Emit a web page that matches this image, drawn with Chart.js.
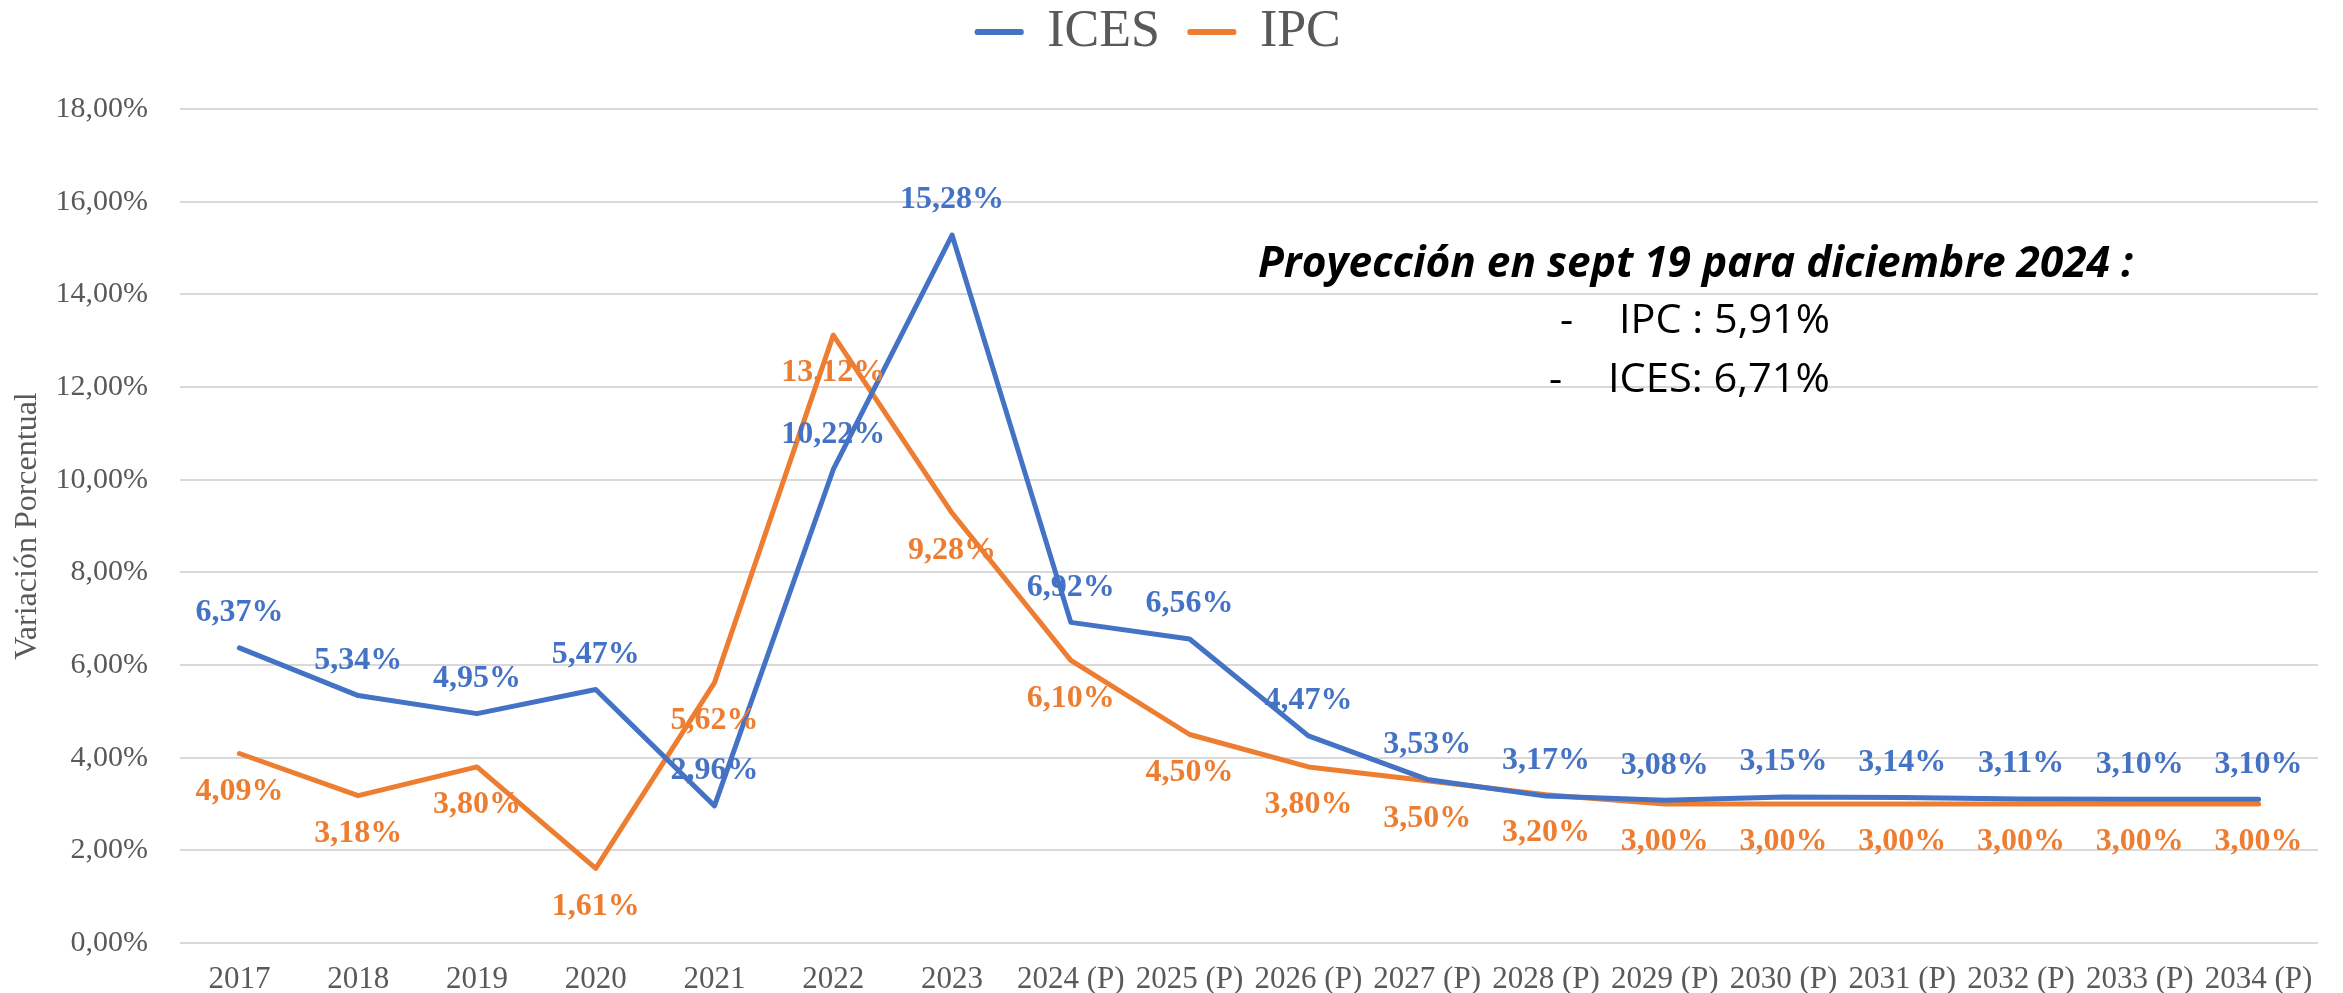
<!DOCTYPE html>
<html>
<head>
<meta charset="utf-8">
<script src="https://cdn.jsdelivr.net/npm/chart.js@4.4.1/dist/chart.umd.min.js"></script>
<style>
  html, body { margin: 0; padding: 0; background: #fff; }
  #wrap { width: 2343px; height: 993px; }
</style>
</head>
<body>
<div id="wrap"><canvas id="chart"></canvas></div>
<script>
const years = ['2017', '2018', '2019', '2020', '2021', '2022', '2023',
    '2024 (P)', '2025 (P)', '2026 (P)', '2027 (P)', '2028 (P)', '2029 (P)',
    '2030 (P)', '2031 (P)', '2032 (P)', '2033 (P)', '2034 (P)'];
const ices = [6.37, 5.34, 4.95, 5.47, 2.96, 10.22, 15.28, 6.92, 6.56, 4.47, 3.53, 3.17, 3.08, 3.15, 3.14, 3.11, 3.10, 3.10];
const ipc = [4.09, 3.18, 3.80, 1.61, 5.62, 13.12, 9.28, 6.10, 4.50, 3.80, 3.50, 3.20, 3.00, 3.00, 3.00, 3.00, 3.00, 3.00];
const noteTitle = 'Proyección en sept 19 para diciembre 2024 :';
const noteLines = ['IPC : 5,91%', 'ICES: 6,71%'];

const BLUE = '#4472C4';
const ORANGE = '#ED7D31';
const GREY = '#595959';

const fmt = v => v.toFixed(2).replace('.', ',') + '%';

// value labels: blue above the point, orange below
const pointLabels = {
    id: 'pointLabels',
    afterDatasetsDraw(chart) {
        const ctx = chart.ctx;
        ctx.save();
        ctx.font = 'bold 32px "Liberation Serif"';
        ctx.textAlign = 'center';
        ctx.textBaseline = 'middle';
        chart.data.datasets.forEach((ds, i) => {
            const meta = chart.getDatasetMeta(i);
            const shift = i === 0 ? -35 : 38;
            ctx.fillStyle = ds.borderColor;
            meta.data.forEach((pt, j) => {
                ctx.fillText(fmt(ds.data[j]), pt.x, pt.y + shift);
            });
        });
        ctx.restore();
    }
};

// more room between the legend and the plot
const legendGap = {
    id: 'legendGap',
    beforeLayout(chart) {
        const lg = chart.legend;
        if (!lg || lg._gapped) return;
        const fit = lg.fit;
        lg.fit = function () {
            fit.call(this);
            this.height += 41;
        };
        lg._gapped = true;
    }
};

// text box in the upper right
function fitText(ctx, text, x, y, width) {
    const w = ctx.measureText(text).width;
    ctx.save();
    ctx.translate(x, y);
    ctx.scale(width / w, 1);
    ctx.fillText(text, 0, 0);
    ctx.restore();
}

const note = {
    id: 'note',
    afterDraw(chart) {
        const ctx = chart.ctx;
        ctx.save();
        ctx.fillStyle = '#000';
        ctx.textAlign = 'left';
        ctx.textBaseline = 'alphabetic';
        ctx.font = 'italic bold 43px "Open Sans"';
        fitText(ctx, noteTitle, 1258, 277, 875);
        ctx.font = '41px "Open Sans"';
        ctx.fillText('-', 1560, 333);
        fitText(ctx, noteLines[0], 1619, 333, 211);
        ctx.fillText('-', 1549, 392);
        fitText(ctx, noteLines[1], 1608, 392, 222);
        ctx.restore();
    }
};

new Chart(document.getElementById('chart'), {
    type: 'line',
    data: {
        labels: years,
        datasets: [
            {label: 'ICES', data: ices, borderColor: BLUE, backgroundColor: BLUE, borderWidth: 5,
             borderCapStyle: 'round', borderJoinStyle: 'round', pointRadius: 0, tension: 0},
            {label: 'IPC', data: ipc, borderColor: ORANGE, backgroundColor: ORANGE, borderWidth: 5,
             borderCapStyle: 'round', borderJoinStyle: 'round', pointRadius: 0, tension: 0}
        ]
    },
    options: {
        responsive: true,
        maintainAspectRatio: false,
        animation: false,
        layout: {padding: {top: -24, right: 25, bottom: -21, left: 0}},
        plugins: {
            legend: {
                position: 'top',
                labels: {
                    color: GREY,
                    font: {family: 'Liberation Serif', size: 52},
                    boxWidth: 44,
                    boxHeight: 1,
                    padding: 30
                }
            },
            tooltip: {enabled: false}
        },
        scales: {
            x: {
                offset: true,
                grid: {display: false},
                border: {display: false},
                ticks: {
                    color: GREY,
                    font: {family: 'Liberation Serif', size: 31},
                    padding: 10,
                    maxRotation: 0,
                    autoSkip: false
                }
            },
            y: {
                min: 0,
                max: 18,
                afterFit(scale) { scale.width = 180; },
                grid: {color: '#d9d9d9', lineWidth: 2, drawTicks: false},
                border: {display: false},
                ticks: {
                    stepSize: 2,
                    color: GREY,
                    font: {family: 'Liberation Serif', size: 30},
                    padding: 32,
                    callback: v => fmt(v)
                },
                title: {
                    display: true,
                    text: 'Variación Porcentual',
                    color: GREY,
                    font: {family: 'Liberation Serif', size: 32},
                    padding: {top: 8, bottom: 0}
                }
            }
        }
    },
    plugins: [legendGap, pointLabels, note]
});
</script>
</body>
</html>
